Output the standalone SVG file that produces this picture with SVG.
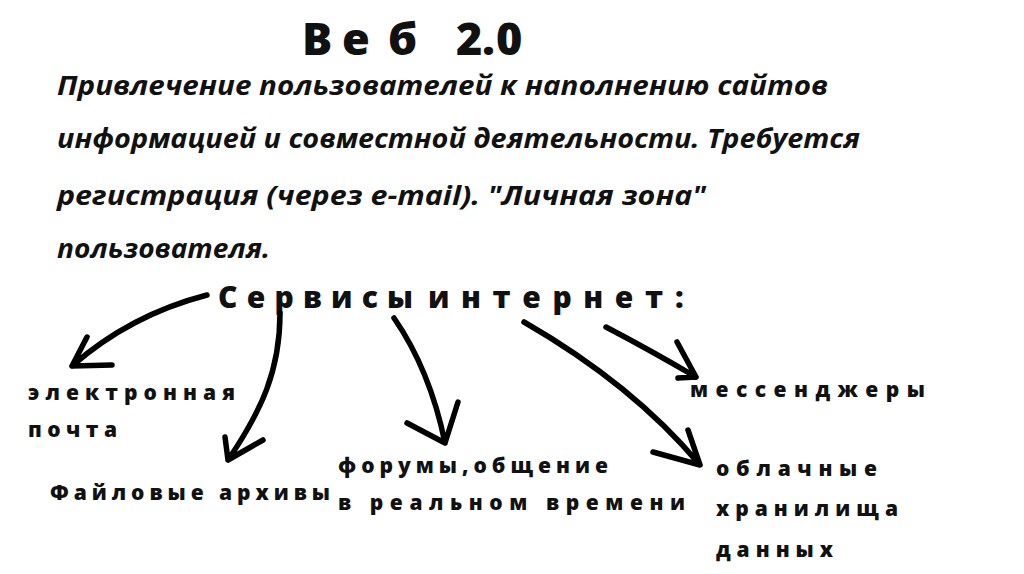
<svg xmlns="http://www.w3.org/2000/svg" width="1024" height="574" viewBox="0 0 1024 574">
<style>
text{fill:#111;font-family:"Open Sans","DejaVu Sans",sans-serif;font-weight:700}
.title{font-size:45px;font-weight:800}
.para{font-size:27px;font-style:italic}
.head{font-size:30px;font-weight:800}
.lbl{font-size:21px;font-weight:800}
.arr{fill:none;stroke:#000;stroke-width:5.5;stroke-linecap:round;stroke-linejoin:round}
</style>
<rect width="1024" height="574" fill="#fff"/>
<g id="title">
<text class="title" x="302" y="55">В</text>
<text class="title" x="342" y="55">е</text>
<text class="title" x="388" y="55">б</text>
<text class="title" x="456" y="55">2</text>
<text class="title" x="482" y="55">.</text>
<text class="title" x="496" y="55">0</text>
</g>
<g id="description">
<text class="para" x="57" y="95" textLength="771" lengthAdjust="spacingAndGlyphs">Привлечение пользователей к наполнению сайтов</text>
<text class="para" x="57" y="148" textLength="803" lengthAdjust="spacingAndGlyphs">информацией и совместной деятельности. Требуется</text>
<text class="para" x="57" y="205" textLength="649" lengthAdjust="spacingAndGlyphs">регистрация (через e-mail). "Личная зона"</text>
<text class="para" x="57" y="258" textLength="213" lengthAdjust="spacingAndGlyphs">пользователя.</text>
</g>
<g id="services">
<text class="head" x="218" y="308" textLength="195">Сервисы</text>
<text class="head" x="428" y="308" textLength="235">интернет</text>
<text class="head" x="675" y="308">:</text>
</g>
<g id="email">
<text class="lbl" x="28" y="400" textLength="207">электронная</text>
<text class="lbl" x="28" y="437" textLength="89">почта</text>
</g>
<g id="files"><text class="lbl" x="50" y="500" textLength="280">Файловые архивы</text></g>
<g id="forums">
<text class="lbl" x="338" y="473" textLength="270">форумы,общение</text>
<text class="lbl" x="338" y="510" textLength="347">в реальном времени</text>
</g>
<g id="messengers"><text class="lbl" x="690" y="397" textLength="235">мессенджеры</text></g>
<g id="cloud">
<text class="lbl" x="716" y="476" textLength="161">облачные</text>
<text class="lbl" x="716" y="516" textLength="182">хранилища</text>
<text class="lbl" x="716" y="557" textLength="117">данных</text>
</g>
<g id="connectors" class="arr">
<path d="M207,295 Q130,315 72,366 M87,337 L72,366 L112,365"/>
<path d="M280,313 C280,370 262,410 228,460 M225,437 L228,460 L263,440"/>
<path d="M394,318 Q430,370 445,443 M407,423 L445,443 L458,402"/>
<path d="M524,322 C590,360 650,405 700,465 M688,430 L700,465 L653,452"/>
<path d="M606,327 Q650,350 696,377 M677,342 L696,377 L678,378"/>
</g>
</svg>
